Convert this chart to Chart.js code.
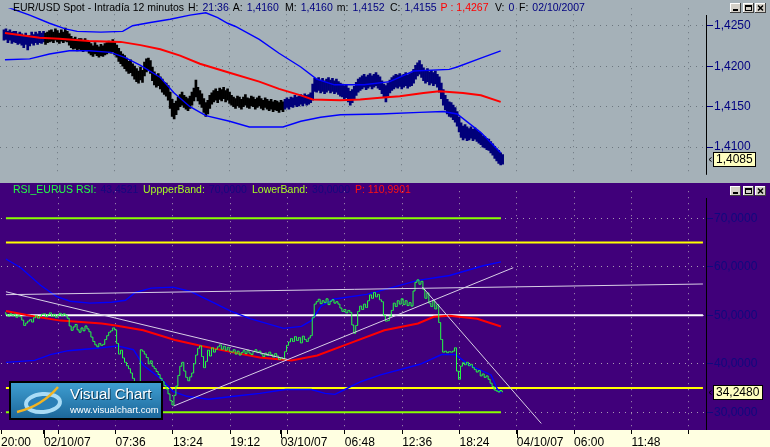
<!DOCTYPE html>
<html>
<head>
<meta charset="utf-8">
<script src="https://cdn.jsdelivr.net/npm/chart.js"></script>
<style>
  html, body { margin: 0; padding: 0; background: #ffffe1; }
  #wrap { position: relative; width: 770px; height: 447px; overflow: hidden; }
  #topPanel { position: absolute; left: 0; top: 0; }
  #rsiPanel { position: absolute; left: 0; top: 183px; }
</style>
</head>
<body>
<div id="wrap">
  <canvas id="topPanel" width="770" height="183"></canvas>
  <canvas id="rsiPanel" width="770" height="264"></canvas>
</div>
<script>
// one bar every 12 minutes, bar 0 = 20:00 on 01/10/07
const firstBar = 2;
const xMin = 0, xMax = 356.75;

const tickBars = [0, 21.7, 29, 58, 87, 116, 141.5, 145, 174, 203, 232, 261, 290, 319, 348];
const tickLabels = ['20:00', '02/10/07', '', '07:36', '13:24', '19:12', '03/10/07', '', '06:48', '12:36', '18:24', '04/10/07', '06:00', '11:48', ''];
const gridBars = [29, 58, 87, 116, 145, 174, 203, 232, 261, 290, 319, 348];
const dateBars = [21.7, 141.5, 261];

// EUR/USD 12 min bars (high / low)
const priceHigh = [
  1.4245,1.4246,1.4243,1.4245,1.4242,1.4243,1.4243,1.4240,1.4242,
  1.4240,1.4238,1.4241,1.4236,1.4238,1.4242,1.4239,1.4242,
  1.4240,1.4243,1.4241,1.4243,1.4241,1.4242,1.4244,
  1.4245,1.4242,1.4246,1.4244,1.4241,1.4245,1.4242,1.4247,1.4243,1.4240,
  1.4237,1.4234,1.4236,1.4233,1.4234,1.4234,1.4231,1.4234,1.4232,1.4230,
  1.4228,1.4225,1.4229,1.4226,1.4224,1.4227,1.4225,1.4228,
  1.4229,1.4231,1.4230,1.4233,1.4229,1.4226,
  1.4222,1.4218,1.4215,1.4213,
  1.4210,1.4206,1.4208,1.4203,1.4200,
  1.4197,1.4194,1.4199,1.4195,
  1.4205,1.4209,1.4210,1.4207,
  1.4199,1.4193,1.4189,1.4191,1.4187,
  1.4184,1.4180,1.4179,1.4176,
  1.4168,1.4159,1.4154,
  1.4157,1.4162,1.4165,1.4168,1.4164,
  1.4162,1.4160,1.4163,
  1.4168,1.4173,1.4183,1.4174,1.4170,
  1.4166,1.4160,1.4155,1.4158,1.4164,
  1.4167,1.4170,1.4172,1.4169,1.4173,1.4171,1.4174,1.4170,1.4172,1.4168,
  1.4164,1.4162,1.4160,1.4163,1.4162,1.4159,1.4162,1.4165,1.4161,1.4160,1.4163,1.4162,1.4159,1.4161,1.4163,
  1.4160,1.4158,1.4161,1.4159,1.4157,1.4159,1.4156,1.4158,1.4157,1.4155,1.4158,1.4156,1.4159,
  1.4161,1.4159,1.4162,1.4161,1.4164,1.4162,1.4163,1.4165,1.4163,1.4166,1.4164,1.4165,1.4167,
  1.4178,1.4185,
  1.4184,1.4186,1.4183,1.4185,1.4182,1.4184,1.4186,1.4183,1.4185,1.4182,1.4184,1.4181,1.4179,
  1.4178,1.4176,1.4177,1.4173,1.4169,1.4171,1.4175,
  1.4180,1.4184,1.4186,1.4188,1.4190,1.4187,1.4189,1.4191,1.4188,1.4190,1.4192,1.4189,1.4187,
  1.4182,1.4178,1.4176,1.4179,1.4183,1.4186,
  1.4188,1.4190,1.4189,1.4191,1.4188,1.4190,1.4192,1.4189,1.4191,
  1.4192,1.4196,1.4201,
  1.4204,1.4207,1.4202,
  1.4198,1.4195,1.4197,1.4193,1.4195,1.4192,1.4194,1.4190,
  1.4187,1.4179,1.4171,1.4164,1.4159,1.4156,
  1.4155,1.4152,1.4149,1.4144,
  1.4137,1.4130,1.4126,1.4128,1.4125,
  1.4123,1.4125,1.4122,1.4124,1.4121,1.4119,
  1.4117,1.4114,1.4113,1.4111,1.4110,
  1.4107,1.4104,1.4101,1.4098,1.4096,
  1.4093,1.4091
];
const priceLow = [
  1.4232,1.4233,1.4229,1.4232,1.4228,1.4230,1.4229,1.4227,1.4228,
  1.4226,1.4223,1.4227,1.4220,1.4225,1.4228,1.4226,1.4229,
  1.4227,1.4229,1.4228,1.4230,1.4227,1.4229,1.4230,
  1.4231,1.4229,1.4232,1.4230,1.4228,1.4231,1.4229,1.4231,1.4230,1.4226,
  1.4223,1.4221,1.4222,1.4219,1.4221,1.4220,1.4218,1.4220,1.4219,1.4216,
  1.4214,1.4212,1.4215,1.4213,1.4211,1.4213,1.4212,1.4214,
  1.4215,1.4217,1.4216,1.4218,1.4214,1.4211,
  1.4206,1.4203,1.4200,1.4197,
  1.4194,1.4191,1.4192,1.4188,1.4184,
  1.4181,1.4179,1.4183,1.4180,
  1.4188,1.4193,1.4195,1.4191,
  1.4182,1.4177,1.4174,1.4176,1.4172,
  1.4168,1.4165,1.4163,1.4158,
  1.4148,1.4138,1.4135,
  1.4140,1.4146,1.4150,1.4152,1.4149,
  1.4147,1.4145,1.4148,
  1.4152,1.4157,1.4162,1.4157,1.4153,
  1.4149,1.4143,1.4138,1.4141,1.4148,
  1.4153,1.4156,1.4158,1.4155,1.4159,1.4157,1.4160,1.4156,1.4158,1.4154,
  1.4152,1.4150,1.4148,1.4151,1.4149,1.4147,1.4150,1.4152,1.4149,1.4148,1.4151,1.4150,1.4147,1.4149,1.4151,
  1.4148,1.4146,1.4149,1.4147,1.4145,1.4147,1.4144,1.4146,1.4145,1.4143,1.4146,1.4144,1.4147,
  1.4149,1.4147,1.4150,1.4149,1.4152,1.4150,1.4151,1.4153,1.4151,1.4154,1.4152,1.4153,1.4155,
  1.4158,1.4169,
  1.4168,1.4170,1.4167,1.4169,1.4166,1.4168,1.4170,1.4167,1.4169,1.4166,1.4168,1.4165,1.4163,
  1.4162,1.4160,1.4161,1.4156,1.4152,1.4155,1.4159,
  1.4164,1.4168,1.4170,1.4172,1.4174,1.4171,1.4173,1.4175,1.4172,1.4174,1.4176,1.4173,1.4171,
  1.4166,1.4161,1.4156,1.4163,1.4167,1.4170,
  1.4172,1.4174,1.4173,1.4175,1.4172,1.4174,1.4176,1.4173,1.4175,
  1.4176,1.4179,1.4184,
  1.4188,1.4190,1.4186,
  1.4182,1.4179,1.4181,1.4177,1.4179,1.4176,1.4178,1.4174,
  1.4168,1.4160,1.4152,1.4146,1.4141,1.4138,
  1.4137,1.4134,1.4131,1.4126,
  1.4119,1.4112,1.4109,1.4111,1.4108,
  1.4109,1.4111,1.4108,1.4110,1.4107,1.4105,
  1.4103,1.4100,1.4099,1.4097,1.4096,
  1.4093,1.4090,1.4086,1.4083,1.4080,
  1.4078,1.4079
];
const lastPrice = 1.4085;
// bars outside this range are painted navy, the rest black
const blackFrom = 23, blackTo = 143;

// moving average and bands on price
const maX = [2.5, 20, 30, 45, 61, 71, 81, 91, 101, 116, 131, 141, 152, 158, 172, 182, 192, 202, 214, 222, 234, 243, 253];
const maPrice = [1.4241, 1.4235, 1.4234, 1.4231, 1.4230, 1.4226, 1.4221, 1.4213, 1.4203, 1.4192, 1.4181, 1.4172, 1.4164, 1.4159, 1.4158, 1.4159, 1.4161, 1.4163, 1.4167, 1.4169, 1.4167, 1.4164, 1.4156];
const upperX = [2.5, 15, 25, 33, 39, 51, 62, 67, 76, 86, 96, 104, 110, 115, 119, 131, 141, 152, 160, 169, 184, 197, 209, 227, 231, 243, 253];
const upperPrice = [1.4274, 1.4263, 1.4253, 1.4246, 1.4243, 1.4242, 1.4243, 1.4250, 1.4254, 1.4258, 1.4263, 1.4266, 1.4260, 1.4253, 1.4249, 1.4233, 1.4216, 1.4199, 1.4184, 1.4177, 1.4177, 1.4181, 1.4194, 1.4196, 1.4199, 1.4210, 1.4219];
const lowerX = [2.5, 15, 25, 35, 45, 56, 63, 71, 81, 88, 96, 104, 116, 126, 143, 152, 162, 172, 192, 212, 224, 231, 243, 253];
const lowerPrice = [1.4208, 1.4209, 1.4215, 1.4219, 1.4219, 1.4217, 1.4211, 1.4201, 1.4186, 1.4167, 1.4150, 1.4139, 1.4132, 1.4125, 1.4125, 1.4132, 1.4137, 1.4140, 1.4141, 1.4143, 1.4144, 1.4141, 1.4118, 1.4093];
const priceTicks = [1.4100, 1.4150, 1.4200, 1.4250];
const priceMin = 1.406591, priceMax = 1.427159;

// RSI
const rsi = [
  50.5,50.1,49.8,50.3,49.9,50.2,49.6,50.0,49.7,
  49.0,47.9,48.4,
  48.8,49.1,48.6,
  49.5,49.9,49.4,49.8,50.2,
  50.3,49.7,50.1,50.5,49.8,50.2,49.6,50.0,50.4,49.9,50.3,50.0,49.4,
  47.8,46.9,47.6,48.1,47.0,
  46.5,47.4,46.8,47.8,47.2,46.6,
  45.5,44.6,43.9,43.5,
  44.2,43.8,44.0,
  45.0,45.8,46.5,46.8,47.4,47.0,
  44.2,42.0,42.8,
  41.2,40.3,39.6,39.0,
  38.1,37.0,36.2,35.4,34.5,
  42.9,42.6,
  42.0,41.3,40.0,40.6,39.5,39.0,
  38.4,37.8,37.0,36.3,35.5,34.8,
  33.8,32.4,31.5,
  33.5,35.4,37.6,39.5,40.3,
  38.5,37.2,36.5,37.3,38.1,
  40.0,41.8,43.2,43.7,
  41.5,39.2,40.5,
  42.8,41.6,43.3,42.4,43.0,
  43.5,43.9,43.0,43.6,42.8,43.4,42.6,
  42.4,42.9,42.0,42.6,41.8,42.3,42.7,42.1,42.8,42.2,41.9,42.5,42.9,42.3,42.6,
  42.0,41.5,42.2,41.7,42.4,41.9,41.4,42.1,41.6,40.9,41.3,41.0,
  42.5,43.8,44.5,45.2,44.6,45.6,44.8,45.4,44.3,45.7,45.0,44.6,45.3,45.8,
  49.5,52.3,
  52.8,53.3,52.4,53.0,52.6,53.4,52.2,52.9,53.2,52.5,52.8,52.3,
  51.5,50.8,51.2,50.5,51.0,50.6,
  48.0,46.3,47.9,
  50.8,51.9,51.2,52.3,51.6,
  53.0,54.2,53.5,54.7,53.8,54.3,53.2,52.8,
  50.0,48.8,48.9,49.8,
  51.0,52.5,51.8,53.0,52.3,53.4,
  52.2,53.0,52.0,52.6,51.9,
  55.0,56.8,57.3,56.4,57.0,
  55.3,53.5,54.6,52.5,
  51.8,53.0,51.3,52.2,
  48.5,45.0,42.4,
  42.6,42.3,42.5,42.4,42.6,
  43.3,38.5,36.8,
  39.5,40.2,39.8,40.3,39.6,39.9,39.2,38.8,38.3,38.6,
  37.5,37.9,37.2,37.5,36.8,36.0,35.3,34.6,34.4,
  34.2,34.5,34.248
];
const rsiMaX = [2.5, 15, 30, 51, 58, 72, 88, 101, 118, 131, 147, 160, 177, 194, 211, 219, 227, 241, 253];
const rsiMa = [50.9, 49.9, 48.9, 48.3, 47.9, 46.9, 44.9, 43.7, 42.3, 41.3, 40.7, 41.7, 44.3, 46.9, 48.3, 49.7, 49.9, 49.3, 47.7];
const rsiUpX = [2.5, 10, 20, 28, 35, 45, 56, 63, 68, 76, 87, 96, 106, 116, 126, 143, 152, 157, 162, 168, 185, 194, 211, 227, 244, 253];
const rsiUp = [61.6, 59.8, 56.2, 53.9, 52.9, 52.5, 52.7, 53.1, 54.7, 55.6, 55.8, 54.9, 52.9, 50.9, 49.3, 47.3, 47.7, 48.9, 51.9, 53.3, 54.3, 55.3, 57.2, 58.2, 60.2, 61.0];
const rsiLoX = [2.5, 17, 25, 34, 51, 59, 67, 72, 81, 87, 94, 105, 118, 131, 144, 157, 164, 169, 174, 182, 192, 212, 223, 230, 237, 248, 251, 253];
const rsiLo = [40.3, 40.7, 41.9, 42.7, 43.3, 43.7, 42.9, 39.7, 36.9, 34.3, 33.3, 32.7, 33.3, 33.9, 34.7, 34.7, 33.9, 33.7, 34.7, 36.3, 37.7, 39.9, 41.9, 41.9, 39.7, 37.7, 34.9, 33.9];
const bandLevels = [70, 30];       // green, drawn over the data span
const signalLevels = [65, 35];     // yellow, full width
const midLevel = 50;
const dataEnd = 253, chartEnd = 355.2;
// hand-drawn trend lines: [bar, rsi, bar, rsi]
const trendLines = [
  [2.5, 54.85, 145, 40.9],
  [87.4, 31.3, 259.2, 59.8],
  [2.5, 54.25, 355.2, 56.45],
  [213.2, 55.85, 273.4, 27.7]
];
const rsiTicks = [30, 40, 50, 60, 70];
const rsiMin = 26.35, rsiMax = 75.58;

const topHeader = [
  ['EUR/USD Spot - Intradía 12 minutos', '#000000'], ['H:', '#000000'], ['21:36', '#000080'],
  ['A:', '#000000'], ['1,4160', '#000080'], ['M:', '#000000'], ['1,4160', '#000080'],
  ['m:', '#000000'], ['1,4152', '#000080'], ['C:', '#000000'], ['1,4155', '#000080'],
  ['P : 1,4267', '#ff0000'], ['V:', '#000000'], ['0', '#000080'], ['F:', '#000000'], ['02/10/2007', '#000080']
];
const topHeaderX = [13, 186, 201, 230, 241, 285, 300, 335, 346, 390, 402, 438, 495, 508, 519, 530];
const rsiHeader = [
  ['RSI_EURUS RSI:', '#22ff44'], ['43,4521', '#14087e'], ['UppperBand:', '#a8ff20'], ['70,0000', '#14087e'],
  ['LowerBand:', '#a8ff20'], ['30,0000', '#14087e'], ['P: 110,9901', '#ff1010']
];
const rsiHeaderX = [13, 99, 143, 207, 252, 310, 355];

const FONT = '"Liberation Sans", Arial, sans-serif';
const comma = v => v.toFixed(4).replace('.', ',');
const pts = (xs, ys) => xs.map((x, i) => ({ x: x, y: ys[i] }));
const hline = (y, x0, x1) => [{ x: x0, y: y }, { x: x1, y: y }];

// each piece starts at its place, or just after the previous one if that is wider
function drawHeader(ctx, segs, xs, y) {
  ctx.save();
  ctx.font = '10.5px ' + FONT;
  ctx.textBaseline = 'middle';
  let end = 0;
  segs.forEach((s, i) => {
    const x = Math.max(xs[i], end + 4);
    ctx.fillStyle = s[1];
    ctx.fillText(s[0], x, y);
    end = x + ctx.measureText(s[0]).width;
  });
  ctx.restore();
}

function drawButtons(ctx, y) {
  [730, 743, 755].forEach((x, i) => {
    ctx.fillStyle = '#d4d0c8'; ctx.fillRect(x, y, 11, 10);
    ctx.fillStyle = '#ffffff'; ctx.fillRect(x, y, 11, 1); ctx.fillRect(x, y, 1, 10);
    ctx.fillStyle = '#404040'; ctx.fillRect(x, y + 9, 11, 1); ctx.fillRect(x + 10, y, 1, 10);
    ctx.fillStyle = '#000000';
    if (i === 0) ctx.fillRect(x + 3, y + 6, 5, 2);
    if (i === 1) {
      ctx.fillRect(x + 2, y + 2, 7, 2); ctx.fillRect(x + 2, y + 2, 1, 6);
      ctx.fillRect(x + 8, y + 2, 1, 6); ctx.fillRect(x + 2, y + 7, 7, 1);
    }
    if (i === 2) {
      ctx.strokeStyle = '#000000'; ctx.lineWidth = 1.5;
      ctx.beginPath();
      ctx.moveTo(x + 3, y + 2.5); ctx.lineTo(x + 8, y + 7.5);
      ctx.moveTo(x + 8, y + 2.5); ctx.lineTo(x + 3, y + 7.5);
      ctx.stroke();
    }
  });
}

function drawTag(ctx, y, text) {
  ctx.save();
  ctx.font = '12px ' + FONT;
  const w = Math.ceil(ctx.measureText(text).width) + 6;
  const top = Math.round(y) - 7;
  ctx.fillStyle = '#ffffc0'; ctx.fillRect(713, top, w, 15);
  ctx.strokeStyle = '#000000'; ctx.lineWidth = 1;
  ctx.strokeRect(713.5, top + 0.5, w - 1, 14);
  ctx.fillStyle = '#000000'; ctx.textBaseline = 'middle';
  ctx.fillText(text, 716, top + 8);
  ctx.beginPath();
  ctx.moveTo(711.5, top + 5.5); ctx.lineTo(709, top + 7.5); ctx.lineTo(711.5, top + 9.5);
  ctx.stroke();
  ctx.restore();
}

function drawLogo(ctx, x, y) {
  const w = 152, h = 37;
  ctx.save();
  const g = ctx.createLinearGradient(0, y, 0, y + h);
  g.addColorStop(0, '#3f9fd2'); g.addColorStop(1, '#1c6699');
  ctx.fillStyle = g; ctx.fillRect(x, y, w, h);
  ctx.strokeStyle = '#000000'; ctx.lineWidth = 2; ctx.strokeRect(x, y, w, h);
  ctx.beginPath(); ctx.ellipse(x + 33, y + 21, 17, 9, -0.08, 0, Math.PI * 2);
  ctx.fillStyle = '#2a7fb6'; ctx.fill();
  ctx.lineWidth = 4; ctx.strokeStyle = '#a9dcf6'; ctx.stroke();
  ctx.beginPath(); ctx.moveTo(x + 7, y + 30); ctx.quadraticCurveTo(x + 32, y + 24, x + 48, y + 5);
  ctx.lineWidth = 2.5; ctx.strokeStyle = '#f2b422'; ctx.stroke();
  ctx.font = '15px ' + FONT;
  ctx.fillStyle = '#0b3550'; ctx.fillText('Visual Chart', x + 61, y + 18);
  ctx.fillStyle = '#ffffff'; ctx.fillText('Visual Chart', x + 60, y + 17);
  ctx.font = '9.5px ' + FONT;
  ctx.fillText('www.visualchart.com', x + 60, y + 31);
  ctx.restore();
}

const topDecor = {
  id: 'topDecor',
  beforeDraw(chart) {
    const c = chart.ctx;
    c.save(); c.fillStyle = '#a5b1b8'; c.fillRect(0, 0, chart.width, chart.height); c.restore();
  },
  afterDatasetsDraw(chart) {
    const c = chart.ctx, a = chart.chartArea;
    c.save();
    c.fillStyle = '#000000'; c.fillRect(a.right, 15, 1, a.bottom - 15);
    c.restore();
    drawTag(c, chart.scales.y.getPixelForValue(lastPrice), comma(lastPrice));
  },
  afterDraw(chart) {
    drawHeader(chart.ctx, topHeader, topHeaderX, 8);
    drawButtons(chart.ctx, 3);
  }
};

const rsiDecor = {
  id: 'rsiDecor',
  beforeDraw(chart) {
    const c = chart.ctx, a = chart.chartArea;
    c.save();
    c.fillStyle = '#40007a'; c.fillRect(0, 0, chart.width, a.bottom);
    c.fillStyle = '#ffffe1'; c.fillRect(0, a.bottom, chart.width, chart.height - a.bottom);
    c.restore();
  },
  afterDatasetsDraw(chart) {
    const c = chart.ctx, a = chart.chartArea;
    drawLogo(c, 10, 199);
    c.save();
    c.fillStyle = '#000000'; c.fillRect(a.right, 15, 1, a.bottom - 15);
    // day separators get a longer tick
    dateBars.forEach(b => {
      const px = Math.round(chart.scales.x.getPixelForValue(b));
      c.fillRect(px, a.bottom, 1, 8);
    });
    c.restore();
    drawTag(c, chart.scales.y.getPixelForValue(rsi[rsi.length - 1]), comma(rsi[rsi.length - 1]));
  },
  afterDraw(chart) {
    drawHeader(chart.ctx, rsiHeader, rsiHeaderX, 7);
    drawButtons(chart.ctx, 3);
  }
};

const common = {
  responsive: false,
  animation: false,
  events: [],
  layout: { padding: 0 },
  elements: { point: { radius: 0 }, line: { tension: 0, fill: false } },
  plugins: { legend: { display: false }, tooltip: { enabled: false } }
};

const lineSet = (data, color, width) => ({ type: 'line', data: data, borderColor: color, borderWidth: width });

// price panel
new Chart(document.getElementById('topPanel'), {
  type: 'line',
  data: {
    datasets: [
      lineSet(pts(maX, maPrice), '#ff0000', 2),
      lineSet(pts(upperX, upperPrice), '#0000ff', 1.4),
      lineSet(pts(lowerX, lowerPrice), '#0000ff', 1.4),
      {
        type: 'bar',
        data: priceHigh.map((h, i) => ({ x: firstBar + i, y: [priceLow[i], h] })),
        backgroundColor: ctx => (ctx.raw && ctx.raw.x >= blackFrom && ctx.raw.x <= blackTo) ? '#000000' : '#00007a',
        borderWidth: 0,
        barThickness: 2,
        grouped: false
      }
    ]
  },
  options: Object.assign({}, common, {
    scales: {
      x: {
        type: 'linear', min: xMin, max: xMax, bounds: 'data', offset: false,
        afterBuildTicks: s => { s.ticks = gridBars.map(v => ({ value: v })); },
        afterFit: s => { s.height = 2; },
        ticks: { display: false },
        border: { display: false, dash: [1, 5] },
        grid: { color: '#6c767e', drawTicks: false, offset: false }
      },
      y: {
        position: 'right', min: priceMin, max: priceMax, bounds: 'data',
        afterBuildTicks: s => { s.ticks = priceTicks.map(v => ({ value: v })); },
        afterFit: s => { s.width = 64; },
        ticks: { color: '#000080', font: { family: FONT, size: 12 }, padding: 1, callback: v => comma(v) },
        border: { display: false, dash: [1, 5] },
        grid: { color: '#6c767e', tickColor: '#000080', tickLength: 7, tickBorderDash: [] }
      }
    }
  }),
  plugins: [topDecor]
});

// RSI panel
const rsiLine = lineSet(rsi.map((v, i) => ({ x: firstBar + i, y: v })), '#22ff44', 1);
rsiLine.stepped = 'middle';

new Chart(document.getElementById('rsiPanel'), {
  type: 'line',
  data: {
    datasets: [
      ...trendLines.map(t => lineSet([{ x: t[0], y: t[1] }, { x: t[2], y: t[3] }], '#d8cfe6', 1)),
      rsiLine,
      lineSet(pts(rsiMaX, rsiMa), '#ff0000', 2),
      lineSet(pts(rsiUpX, rsiUp), '#0000ff', 1.4),
      lineSet(pts(rsiLoX, rsiLo), '#0000ff', 1.4),
      lineSet(hline(midLevel, 2.5, chartEnd), '#ffffff', 2),
      ...signalLevels.map(l => lineSet(hline(l, 2.5, chartEnd), '#ffff00', 2)),
      ...bandLevels.map(l => lineSet(hline(l, 2.5, dataEnd), '#88ff00', 2))
    ]
  },
  options: Object.assign({}, common, {
    scales: {
      x: {
        type: 'linear', min: xMin, max: xMax, bounds: 'data', offset: false,
        afterBuildTicks: s => { s.ticks = tickBars.map(v => ({ value: v })); },
        afterFit: s => { s.height = 17; },
        ticks: {
          autoSkip: false, maxRotation: 0, minRotation: 0, align: 'start', padding: 1,
          color: '#000000', font: { family: FONT, size: 12 },
          callback: (v, i) => tickLabels[i]
        },
        border: { display: false, dash: [1, 5] },
        grid: {
          color: ctx => (ctx.tick && gridBars.includes(ctx.tick.value)) ? '#a898b4' : 'rgba(0,0,0,0)',
          tickColor: '#000000', tickLength: 4, tickBorderDash: [], offset: false
        }
      },
      y: {
        position: 'right', min: rsiMin, max: rsiMax, bounds: 'data',
        afterBuildTicks: s => { s.ticks = rsiTicks.map(v => ({ value: v })); },
        afterFit: s => { s.width = 64; },
        ticks: { color: '#10087e', font: { family: FONT, size: 12 }, padding: 1, callback: v => comma(v) },
        border: { display: false, dash: [1, 5] },
        grid: { color: '#a898b4', tickColor: '#10087e', tickLength: 7, tickBorderDash: [] }
      }
    }
  }),
  plugins: [rsiDecor]
});
</script>
</body>
</html>
